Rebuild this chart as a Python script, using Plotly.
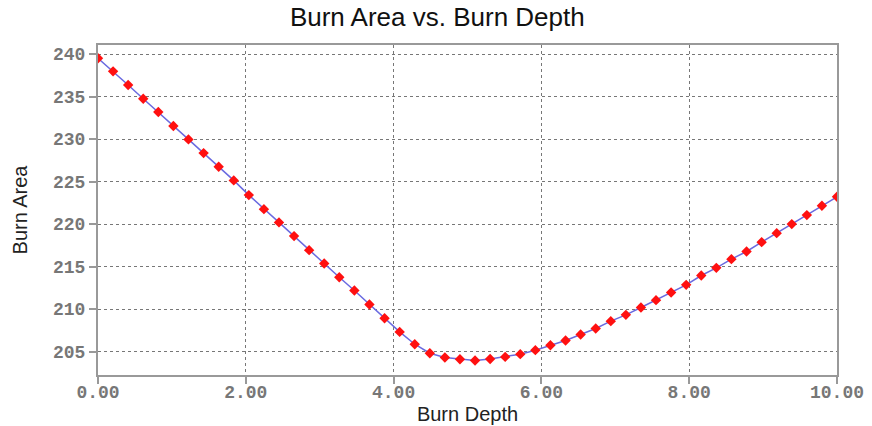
import plotly.graph_objects as go

burn_depth = [0.000, 0.204, 0.408, 0.612, 0.816, 1.020, 1.224, 1.429, 1.633, 1.837,
              2.041, 2.245, 2.449, 2.653, 2.857, 3.061, 3.265, 3.469, 3.673, 3.878,
              4.082, 4.286, 4.490, 4.694, 4.898, 5.102, 5.306, 5.510, 5.714, 5.918,
              6.122, 6.327, 6.531, 6.735, 6.939, 7.143, 7.347, 7.551, 7.755, 7.959,
              8.163, 8.367, 8.571, 8.776, 8.980, 9.184, 9.388, 9.592, 9.796, 10.000]

burn_area = [239.50, 237.96, 236.35, 234.74, 233.18, 231.53, 229.96, 228.35, 226.74, 225.14,
             223.41, 221.76, 220.20, 218.59, 216.94, 215.37, 213.76, 212.19, 210.55, 208.94,
             207.33, 205.88, 204.82, 204.31, 204.12, 203.96, 204.15, 204.39, 204.71, 205.18,
             205.76, 206.31, 207.02, 207.73, 208.59, 209.33, 210.20, 211.06, 211.96, 212.86,
             213.96, 214.86, 215.88, 216.78, 217.88, 218.94, 220.00, 221.06, 222.16, 223.21]

title_text = "Burn Area vs. Burn Depth"
x_title = "Burn Depth"
y_title = "Burn Area"

fig = go.Figure()
fig.add_trace(go.Scatter(
    x=burn_depth, y=burn_area, mode="lines+markers",
    line=dict(color="#6a6ae0", width=1.5),
    marker=dict(symbol="diamond", size=8, color="#ff1010"),
    showlegend=False,
))

tick_font = dict(family="Liberation Mono", size=18, color="#777777", weight="bold")
axis_common = dict(
    showline=True, mirror=True, linecolor="#999999", linewidth=2,
    showgrid=True, gridcolor="#777777", gridwidth=1, griddash="dot",
    ticks="outside", ticklen=7, tickcolor="#999999", tickwidth=2,
    tickfont=tick_font, zeroline=False, automargin=False,
)

fig.update_layout(
    width=872, height=426,
    paper_bgcolor="white", plot_bgcolor="white",
    margin=dict(l=98, r=35, t=45, b=51),
    title=dict(text=title_text, x=0.5015, xanchor="center", y=0.96, yanchor="middle",
               font=dict(family="Liberation Sans", size=26, color="#111111")),
    xaxis=dict(range=[0, 10], dtick=2, tick0=0, tickformat=".2f", ticklabelstandoff=-8,
               title=dict(text=x_title, standoff=5,
                          font=dict(family="Liberation Sans", size=20, color="#222222")),
               **axis_common),
    yaxis=dict(range=[202.26, 241.06], dtick=5, tick0=0,
               title=dict(text=y_title, standoff=20,
                          font=dict(family="Liberation Sans", size=20, color="#222222")),
               **axis_common),
)

fig.write_html("out.html", config={"displayModeBar": False},
               post_script="document.body.style.margin='0';")
